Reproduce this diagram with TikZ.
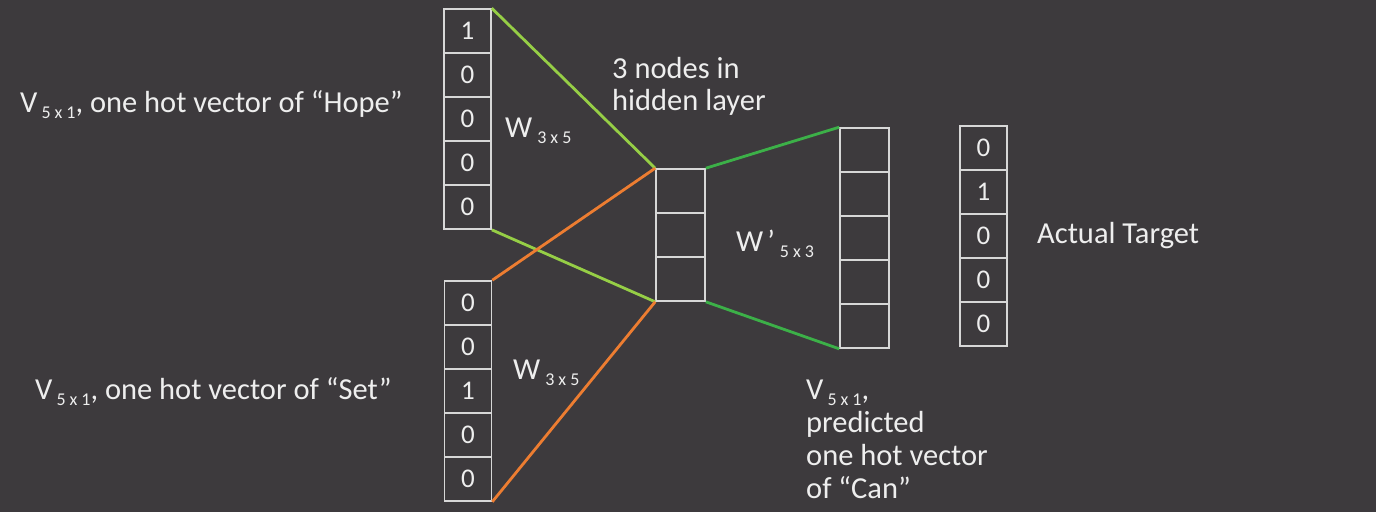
\documentclass[tikz,border=0pt]{standalone}
\usepackage{fontspec}
\setmainfont{Carlito}
\definecolor{slide}{RGB}{61,58,61}
\definecolor{boxgray}{RGB}{215,215,215}
\definecolor{txtwhite}{RGB}{238,238,238}
\definecolor{limegreen}{RGB}{150,206,70}
\definecolor{darkgreen}{RGB}{60,176,72}
\definecolor{orangeline}{RGB}{237,125,49}
\newcommand{\dimsub}[1]{\raisebox{-6pt}{\fontsize{18}{18}\selectfont #1}}
\tikzset{
            cell/.style={draw=boxgray, line width=1.6pt, minimum width=47pt, minimum height=44pt, inner sep=0pt, font=\fontsize{27}{27}\selectfont},
            lbl/.style={anchor=base west, inner sep=0pt}
        }

\begin{document}
\begin{tikzpicture}[
                    x=1pt, y=-1pt,
                    every node/.style={text=txtwhite, font=\fontsize{30.5}{32}\selectfont},
                    hopeline/.style={limegreen, line width=2.8pt},
                    setline/.style={orangeline, line width=2.8pt},
                    outline/.style={darkgreen, line width=2.8pt}
                    ]
                \useasboundingbox[fill=slide] (0,0) rectangle (1376,512);
                \foreach \v [count=\i] in {1,0,0,0,0}
                    \node[cell] (hope\i) at (467.5, 31+44*\i-44) {\v};
                \foreach \v [count=\i] in {0,0,1,0,0}
                    \node[cell] (set\i) at (468, 303+44*\i-44) {\v};
                \foreach \i in {1,2,3}
                    \node[cell, minimum width=49pt] (hid\i) at (680.5, 191+44*\i-44) {};
                \foreach \i in {1,...,5}
                    \node[cell, minimum width=49pt] (out\i) at (864.5, 150+44*\i-44) {};
                \foreach \v [count=\i] in {0,1,0,0,0}
                    \node[cell] (tgt\i) at (983.5, 148+44*\i-44) {\v};

                \draw[hopeline] (hope1.north east) -- (hid1.north west);
                \draw[hopeline] (hope5.south east) -- (hid3.south west);
                \draw[setline] (set1.north east) -- (hid1.north west);
                \draw[setline] (set5.south east) -- (hid3.south west);
                \draw[outline] (hid1.north east) -- (out1.north west);
                \draw[outline] (hid3.south east) -- (out5.south west);

                \node[lbl] (hopetxt) at (20,112) {V\hspace{4pt}\dimsub{5\hspace{4pt}x\hspace{4pt}1}, one hot vector of “Hope”};
                \node[lbl] (settxt) at (35,399) {V\hspace{4pt}\dimsub{5\hspace{4pt}x\hspace{4pt}1}, one hot vector of “Set”};
                \node[lbl] (wtop) at (505,137) {W\hspace{5pt}\dimsub{3\hspace{4pt}x\hspace{4pt}5}};
                \node[lbl] (wbot) at (513,379) {W\hspace{5pt}\dimsub{3\hspace{4pt}x\hspace{4pt}5}};
                \node[lbl] (wout) at (736,251) {W\hspace{4pt}’\hspace{5pt}\dimsub{5\hspace{4pt}x\hspace{4pt}3}};
                \node[lbl, align=left] (hidtxt) at (612,110) {3 nodes in\\hidden layer};
                \node[lbl] (tgttxt) at (1037,243) {Actual Target};
                \node[lbl, align=left, font=\fontsize{30.5}{33}\selectfont] (predtxt) at (806,498) {V\hspace{4pt}\dimsub{5\hspace{4pt}x\hspace{4pt}1},\\predicted\\one hot vector\\of “Can”};
            \end{tikzpicture}
\end{document}
